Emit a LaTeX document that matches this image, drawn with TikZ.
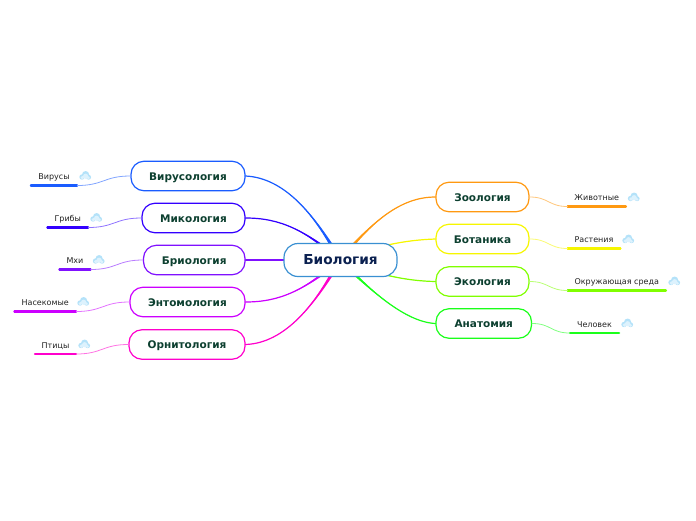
\documentclass[tikz,border=0pt]{standalone}
\usepackage{fontspec}
\setmainfont{DejaVu Sans}
\usetikzlibrary{calc}
\definecolor{rootline}{HTML}{3A90D2}
\definecolor{rootink}{HTML}{0A2050}
\definecolor{childink}{HTML}{0D4030}
\definecolor{leafink}{HTML}{222222}
\definecolor{virus}{HTML}{1A5CFF}
\definecolor{myco}{HTML}{3300FF}
\definecolor{bryo}{HTML}{8011FF}
\definecolor{ento}{HTML}{CC00FF}
\definecolor{ornith}{HTML}{FF00CC}
\definecolor{zoo}{HTML}{FF9911}
\definecolor{botany}{HTML}{F6F600}
\definecolor{eco}{HTML}{80FF00}
\definecolor{anat}{HTML}{1AFF1A}
\definecolor{cloudtop}{HTML}{B4E2F9}
\definecolor{cloudlow}{HTML}{DDF2FD}

\tikzset{
  rootbox/.style={draw=rootline,fill=white,line width=1.2pt,rounded corners=14pt,
    minimum width=113pt,minimum height=33pt,inner sep=0pt,text=rootink,
    font=\fontsize{13.7}{16}\selectfont\bfseries},
  childbox/.style={draw=#1,fill=white,line width=1.2pt,rounded corners=13pt,
    minimum height=29.5pt,inner sep=0pt,text height=9.5pt,text depth=.9pt,text=childink,
    font=\fontsize{10.5}{12}\selectfont\bfseries},
  leafbox/.style={anchor=south,inner xsep=0pt,inner ysep=3.5pt,text height=7pt,text depth=2pt,
    text=leafink,font=\fontsize{8}{10}\selectfont,
    append after command={(\tikzlastnode.south west) edge[#1,line width=2.1pt]
      (\tikzlastnode.south east)}},
  twig/.style={#1!55,line width=.8pt,looseness=1.25},
  cloudicon/.pic={
    \fill[cloudtop] (.6,-1.4) circle[radius=3.6] (-3,1) circle[radius=2.7]
      (3.6,1.2) circle[radius=2.5];
    \fill[cloudlow] (.6,.2) circle[radius=2.6] (-2.6,1.6) circle[radius=1.8]
      (3.4,1.8) circle[radius=1.6];
  }
}

% tapered branch: colour, child anchor, two control points
\newcommand{\branch}[4]{
  \fill[#1] ($(root)!2.2pt!90:#4$) .. controls #4 and #3 .. (#2)
    .. controls #3 and #4 .. ($(root)!2.2pt!-90:#4$) -- cycle;
  \draw[#1,line width=1.2pt] (#2) .. controls #3 and #4 .. (root);
}

\begin{document}
\begin{tikzpicture}[x=1pt,y=-1pt,line cap=round,line join=round]
  \useasboundingbox (0,0) rectangle (696,520);

  \coordinate (root) at (340,260);

  % child topics
  \node[childbox=virus,minimum width=114pt] (virology) at (188,176) {Вирусология};
  \node[childbox=myco,minimum width=103pt] (mycology) at (193.5,218) {Микология};
  \node[childbox=bryo,minimum width=101.5pt] (bryology) at (194.25,260) {Бриология};
  \node[childbox=ento,minimum width=115pt] (entomology) at (187.5,302) {Энтомология};
  \node[childbox=ornith,minimum width=116pt] (ornithology) at (187,344.5) {Орнитология};
  \node[childbox=zoo,minimum width=93pt] (zoology) at (482.5,197) {Зоология};
  \node[childbox=botany,minimum width=93pt] (botanics) at (482.5,239) {Ботаника};
  \node[childbox=eco,minimum width=93pt] (ecology) at (482.5,281.5) {Экология};
  \node[childbox=anat,minimum width=95.5pt] (anatomy) at (483.75,323.5) {Анатомия};

  % main branches
  \branch{virus}{virology.east}{(285,178)}{(315,215)}
  \branch{myco}{mycology.east}{(280,218)}{(305,230)}
  \branch{bryo}{bryology.east}{(275,260)}{(310,260)}
  \branch{ento}{entomology.east}{(280,302)}{(305,290)}
  \branch{ornith}{ornithology.east}{(285,343)}{(315,305)}
  \branch{zoo}{zoology.west}{(400,197)}{(372,222)}
  \branch{botany}{botanics.west}{(405,240)}{(375,246)}
  \branch{eco}{ecology.west}{(405,281)}{(375,274)}
  \branch{anat}{anatomy.west}{(405,322)}{(370,290)}

  \node[rootbox] (biology) at (340.5,260) {Биология};

  % leaves
  \node[leafbox=virus,minimum width=46pt] (viruses) at (54,185.5) {Вирусы};
  \node[leafbox=myco,minimum width=40.5pt] (fungi) at (67.75,227.5) {Грибы};
  \node[leafbox=bryo,minimum width=31pt] (mosses) at (75,269.5) {Мхи};
  \node[leafbox=ento,minimum width=61.5pt] (insects) at (45.25,311.5) {Насекомые};
  \node[leafbox=ornith,minimum width=41pt] (birds) at (55.5,354) {Птицы};
  \node[leafbox=zoo,minimum width=58pt] (animals) at (596.75,206.5) {Животные};
  \node[leafbox=botany,minimum width=52.5pt] (plants) at (594,248.5) {Растения};
  \node[leafbox=eco,minimum width=98pt] (environment) at (616.75,290.5) {Окружающая среда};
  \node[leafbox=anat,minimum width=49pt] (human) at (594.5,333) {Человек};

  % twigs
  \draw[twig=virus] (virology.west) to[out=180,in=0] (viruses.south east);
  \draw[twig=myco] (mycology.west) to[out=180,in=0] (fungi.south east);
  \draw[twig=bryo] (bryology.west) to[out=180,in=0] (mosses.south east);
  \draw[twig=ento] (entomology.west) to[out=180,in=0] (insects.south east);
  \draw[twig=ornith] (ornithology.west) to[out=180,in=0] (birds.south east);
  \draw[twig=zoo] (zoology.east) to[out=0,in=180] (animals.south west);
  \draw[twig=botany] (botanics.east) to[out=0,in=180] (plants.south west);
  \draw[twig=eco] (ecology.east) to[out=0,in=180] (environment.south west);
  \draw[twig=anat] (anatomy.east) to[out=0,in=180] (human.south west);

  % clouds
  \pic at (85,176) {cloudicon};
  \pic at (96,218) {cloudicon};
  \pic at (98.5,260) {cloudicon};
  \pic at (83,302) {cloudicon};
  \pic at (84,344.5) {cloudicon};
  \pic at (633.5,197.5) {cloudicon};
  \pic at (628,239.5) {cloudicon};
  \pic at (674,281.5) {cloudicon};
  \pic at (627,323.5) {cloudicon};
\end{tikzpicture}
\end{document}
